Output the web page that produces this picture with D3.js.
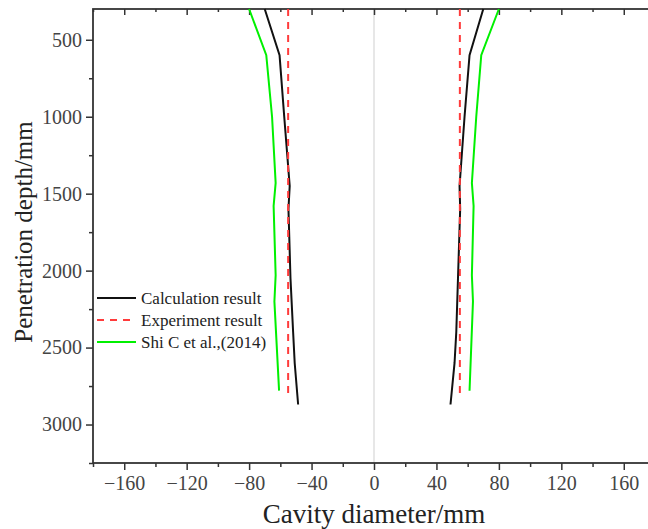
<!DOCTYPE html>
<html>
<head>
<meta charset="utf-8">
<script src="https://cdn.jsdelivr.net/npm/d3@7"></script>
<style>
  html, body { margin: 0; padding: 0; background: #fff; }
  svg { display: block; }
  text { font-family: "Liberation Serif", "Times New Roman", serif; }
</style>
</head>
<body>
<svg id="chart" width="648" height="529"></svg>
<script>
// ---- data ----
const seriesNames = ["Calculation result", "Experiment result", "Shi C et al.,(2014)"];
const seriesColors = ["#111111", "#ff3b3b", "#00f000"];

const calcDepth = [300, 600, 1000, 1450, 1600, 2050, 2400, 2600, 2870];
const calcLeft  = [-70, -60.5, -57.5, -54, -54.8, -53.5, -51.8, -50.8, -48.6];
const calcRight = [70, 61.2, 58, 54.8, 55.2, 53.8, 52.7, 51.6, 49];

const expDepth = [300, 2800];
const expLeft  = [-55, -55];
const expRight = [55, 55];

const shiDepth = [300, 600, 1000, 1430, 1580, 2030, 2200, 2780];
const shiLeft  = [-80, -69, -65.3, -63, -64.3, -63, -63.8, -60.8];
const shiRight = [80, 68.7, 65.5, 62.7, 63.8, 62.7, 63.4, 61.2];

const xMajorTicks = [-160, -120, -80, -40, 0, 40, 80, 120, 160];
const xMinorTicks = [-180, -140, -100, -60, -20, 20, 60, 100, 140, 180];
const yMajorTicks = [500, 1000, 1500, 2000, 2500, 3000];
const yMinorTicks = [750, 1250, 1750, 2250, 2750, 3250];

const xTitle = "Cavity diameter/mm";
const yTitle = "Penetration depth/mm";

// ---- layout ----
const svg = d3.select("#chart");
const pLeft = 93, pRight = 655, pTop = 9, pBottom = 463;

const x = d3.scaleLinear().domain([-180, 180]).range([pLeft, pRight]);
const y = d3.scaleLinear().domain([300, 3250]).range([pTop, pBottom]);

const axisColor = "#333";
const labelColor = "#444";

// zero line
svg.append("line")
  .attr("x1", x(0)).attr("x2", x(0))
  .attr("y1", pTop).attr("y2", pBottom)
  .attr("stroke", "#cfcfcf").attr("stroke-width", 1);

function styleAxis(g) {
  g.select(".domain").remove();
  g.selectAll("line").attr("stroke", axisColor).attr("stroke-width", 1.5);
  g.selectAll("text").attr("fill", labelColor).style("font-size", "20px")
    .style("font-family", '"Liberation Serif", "Times New Roman", serif');
}

// bottom axis
const gB = svg.append("g").attr("transform", `translate(0,${pBottom})`);
gB.append("g").call(d3.axisBottom(x).tickValues(xMajorTicks).tickSize(7).tickPadding(6)
  .tickFormat(d => d < 0 ? "\u2212" + Math.abs(d) : d)).call(styleAxis);
gB.append("g").call(d3.axisBottom(x).tickValues(xMinorTicks).tickSize(4).tickFormat(""))
  .call(styleAxis);

// top axis (inward)
const gT = svg.append("g").attr("transform", `translate(0,${pTop})`);
gT.append("g").call(d3.axisBottom(x).tickValues(xMajorTicks).tickSize(6).tickFormat("")).call(styleAxis);
gT.append("g").call(d3.axisBottom(x).tickValues(xMinorTicks).tickSize(3).tickFormat("")).call(styleAxis);

// left axis
const gL = svg.append("g").attr("transform", `translate(${pLeft},0)`);
gL.append("g").call(d3.axisLeft(y).tickValues(yMajorTicks).tickSize(7).tickPadding(4)
  .tickFormat(d3.format("d"))).call(styleAxis);
gL.append("g").call(d3.axisLeft(y).tickValues(yMinorTicks).tickSize(4).tickFormat("")).call(styleAxis);

// right axis (inward)
const gR = svg.append("g").attr("transform", `translate(${pRight},0)`);
gR.append("g").call(d3.axisLeft(y).tickValues(yMajorTicks).tickSize(7).tickFormat("")).call(styleAxis);
gR.append("g").call(d3.axisLeft(y).tickValues(yMinorTicks).tickSize(4).tickFormat("")).call(styleAxis);

// frame
svg.append("rect")
  .attr("x", pLeft).attr("y", pTop)
  .attr("width", pRight - pLeft).attr("height", pBottom - pTop)
  .attr("fill", "none").attr("stroke", axisColor).attr("stroke-width", 1.8);

// lines
const line = d3.line().x(d => x(d[0])).y(d => y(d[1]));
function drawSeries(vals, depths, color, dash) {
  const pts = vals.map((v, i) => [v, depths[i]]);
  svg.append("path").datum(pts)
    .attr("d", line)
    .attr("fill", "none")
    .attr("stroke", color)
    .attr("stroke-width", 2)
    .attr("stroke-dasharray", dash || null);
}
drawSeries(shiLeft, shiDepth, seriesColors[2]);
drawSeries(shiRight, shiDepth, seriesColors[2]);
drawSeries(calcLeft, calcDepth, seriesColors[0]);
drawSeries(calcRight, calcDepth, seriesColors[0]);
drawSeries(expLeft, expDepth, seriesColors[1], "7,6");
drawSeries(expRight, expDepth, seriesColors[1], "7,6");

// legend
const legY = [298, 320, 342];
const legDash = [null, "7,6", null];
seriesNames.forEach((name, i) => {
  svg.append("line")
    .attr("x1", 97).attr("x2", 136)
    .attr("y1", legY[i]).attr("y2", legY[i])
    .attr("stroke", seriesColors[i]).attr("stroke-width", 2)
    .attr("stroke-dasharray", legDash[i]);
  svg.append("text")
    .attr("x", 141).attr("y", legY[i] + 6)
    .attr("fill", "#222")
    .style("font-size", "17px")
    .text(name);
});

// titles
svg.append("text")
  .attr("x", x(0)).attr("y", 523)
  .attr("text-anchor", "middle")
  .attr("fill", "#222")
  .style("font-size", "27px")
  .text(xTitle);

svg.append("text")
  .attr("transform", `translate(32,232) rotate(-90)`)
  .attr("text-anchor", "middle")
  .attr("fill", "#222")
  .style("font-size", "25px")
  .text(yTitle);
</script>
</body>
</html>
